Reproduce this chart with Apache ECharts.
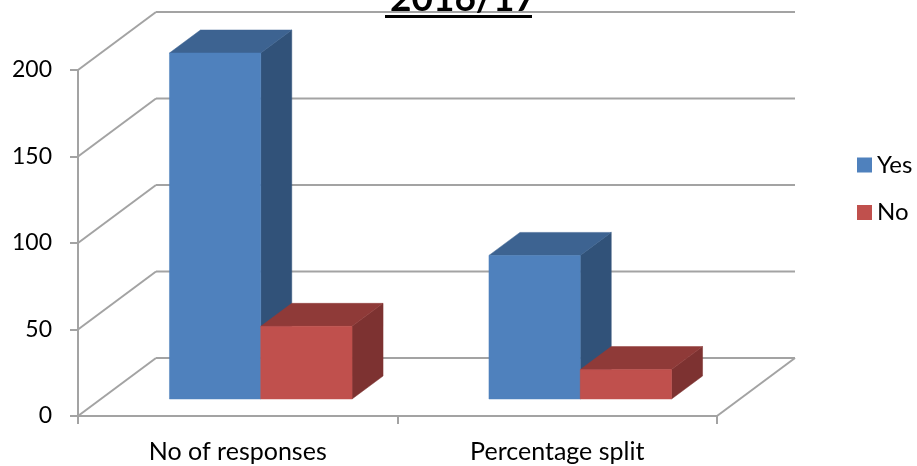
<!DOCTYPE html>
<html><head><meta charset="utf-8">
<style>html,body{margin:0;padding:0;background:#fff}#c{width:917px;height:466px}</style>
<script src="https://cdn.jsdelivr.net/npm/echarts@6/dist/echarts.min.js"></script>
</head><body><div id="c"></div>
<script>
const categories = ['No of responses', 'Percentage split'];
const yesValues = [200, 83];
const noValues = [42, 17];
const gridValues = [0, 50, 100, 150, 200];
const titleText = '2016/17';

const FONT = 'Lato, Carlito, "Open Sans", sans-serif';
const WALL_DX = 78, WALL_DY = -58;      // full floor depth
const BAR_DX = 31, BAR_DY = -23;        // bar depth
const OFF_DX = 23, OFF_DY = -17;        // bar inset from the front of the floor
const GRID = '#a3a3a3';
const BAND_BAR = 1 / 3.5;               // 150% gap width

function wall(params, api) {
  const v = api.value(1);
  const p = api.coord([0, v]);
  const cs = params.coordSys;
  const x0 = cs.x, x1 = cs.x + cs.width, y = p[1];
  const line = (a, b, c, d) => ({
    type: 'line', shape: {x1: a, y1: b, x2: c, y2: d},
    style: {stroke: GRID, lineWidth: 2}
  });
  const children = [
    line(x0, y, x0 + WALL_DX, y + WALL_DY),
    line(x0 + WALL_DX, y + WALL_DY, x1 + WALL_DX, y + WALL_DY)
  ];
  if (v === 0) children.push(line(x1, y, x1 + WALL_DX, y + WALL_DY));
  return {type: 'group', children};
}

function barRenderer(colors, slot) {
  return function (params, api) {
    const i = api.value(0), v = api.value(1);
    const band = api.size([1, 0])[0];
    const w = band * BAND_BAR;
    const c = api.coord([i, v]);
    const base = api.coord([i, 0]);
    const xl = c[0] + OFF_DX + (slot - 1) * w, xr = xl + w;
    const yt = c[1] + OFF_DY, yb = base[1] + OFF_DY;
    const poly = (points, fill) => ({
      type: 'polygon', shape: {points},
      style: {fill, stroke: fill, lineWidth: 0.5}
    });
    return {type: 'group', children: [
      poly([[xr, yt], [xr + BAR_DX, yt + BAR_DY], [xr + BAR_DX, yb + BAR_DY], [xr, yb]], colors.side),
      poly([[xl, yt], [xl + BAR_DX, yt + BAR_DY], [xr + BAR_DX, yt + BAR_DY], [xr, yt]], colors.top),
      poly([[xl, yt], [xr, yt], [xr, yb], [xl, yb]], colors.front)
    ]};
  };
}

const blue = {front: '#4F81BD', top: '#3D6391', side: '#315279'};
const red = {front: '#C0504D', top: '#8F3A38', side: '#7D3231'};
const rows = vals => categories.map((_, i) => [i, vals[i]]);

const chart = echarts.init(document.getElementById('c'), null, {renderer: 'canvas'});
chart.setOption({
  animation: false,
  backgroundColor: '#fff',
  title: {
    text: titleText, left: 458, top: -24, textAlign: 'center',
    textStyle: {fontFamily: FONT, fontWeight: 'bold', fontSize: 37, color: '#000'}
  },
  legend: {
    data: ['Yes', 'No'], orient: 'vertical', left: 857, top: 153, padding: 0,
    itemWidth: 15, itemHeight: 15, itemGap: 23.5, icon: 'rect',
    selectedMode: false,
    textStyle: {fontFamily: FONT, fontSize: 24, lineHeight: 15, color: '#000'},
    formatter: n => n
  },
  grid: {left: 78, right: 200, top: 70, bottom: 50, containLabel: false},
  xAxis: {
    type: 'category', data: categories,
    boundaryGap: true,
    axisLine: {show: true, onZero: false, lineStyle: {color: GRID, width: 2}},
    axisTick: {show: true, length: 8, alignWithLabel: false, lineStyle: {color: GRID, width: 2}},
    axisLabel: {fontFamily: FONT, fontSize: 25, color: '#000', margin: 23, interval: 0},
    splitLine: {show: false}
  },
  yAxis: {
    type: 'value', min: 0, max: 200, interval: 50,
    axisLine: {show: true, lineStyle: {color: GRID, width: 2}},
    axisTick: {show: true, length: 8, lineStyle: {color: GRID, width: 2}},
    axisLabel: {fontFamily: FONT, fontSize: 23, color: '#000', margin: 26},
    splitLine: {show: false}
  },
  graphic: [{
    type: 'rect', left: 385, top: 15, z: 10,
    shape: {width: 147, height: 3}, style: {fill: '#000'}
  }],
  series: [
    {type: 'custom', name: 'walls', silent: true, clip: false, z: 1,
     data: gridValues.map(v => [0, v]), encode: {x: 0, y: 1}, renderItem: wall},
    {type: 'custom', name: 'Yes', silent: true, clip: false, z: 2,
     itemStyle: {color: blue.front},
     data: rows(yesValues), encode: {x: 0, y: 1}, renderItem: barRenderer(blue, 0)},
    {type: 'custom', name: 'No', silent: true, clip: false, z: 3,
     itemStyle: {color: red.front},
     data: rows(noValues), encode: {x: 0, y: 1}, renderItem: barRenderer(red, 1)}
  ]
});
</script></body></html>
